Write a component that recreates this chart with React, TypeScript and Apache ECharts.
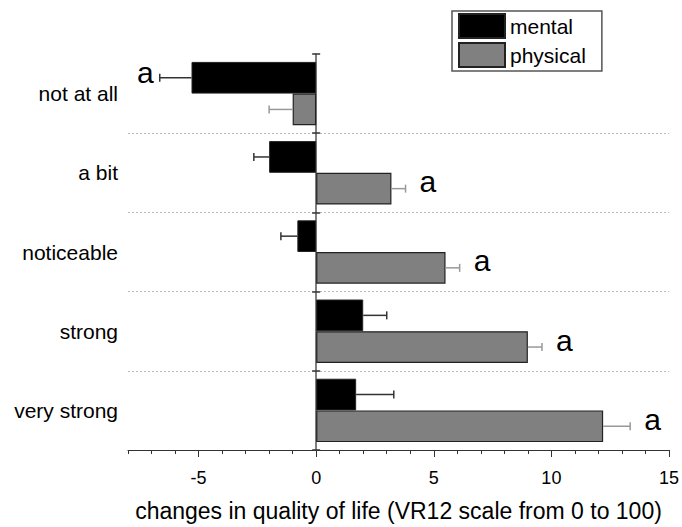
import React, { useEffect, useRef } from "react";
import * as echarts from "echarts";

const categories = ["not at all", "a bit", "noticeable", "strong", "very strong"];
const mentalValues = [-5.3, -2.0, -0.8, 2.0, 1.7];
const mentalErrors = [1.35, 0.65, 0.7, 1.0, 1.6];
const physicalValues = [-1.0, 3.2, 5.5, 9.0, 12.2];
const physicalErrors = [1.0, 0.6, 0.6, 0.6, 1.15];
const mentalSig = ["a", "", "", "", ""];
const physicalSig = ["", "a", "a", "a", "a"];
const xTickLabels = [-5, 0, 5, 10, 15];
const xMin = -8;
const xMax = 15;

const FONT = "'Liberation Sans', Arial, sans-serif";

function errData(values: number[], errs: number[], sig: string[]) {
  return values.map((v, i) => [v, i, v + (v < 0 ? -errs[i] : errs[i]), sig[i] ? 1 : 0]);
}

function makeRender(offsetSign: number, color: string, sig: string[]) {
  return (params: any, api: any) => {
    const v = api.value(0);
    const cat = api.value(1);
    const e = api.value(2);
    const band = api.size([0, 1])[1];
    const p0 = api.coord([v, cat]);
    const p1 = api.coord([e, cat]);
    const y = p0[1] + offsetSign * band * 0.2;
    const cap = 4;
    const children: any[] = [
      { type: "line", shape: { x1: p0[0], y1: y, x2: p1[0], y2: y }, style: { stroke: color, lineWidth: 1.5 } },
      { type: "line", shape: { x1: p1[0], y1: y - cap, x2: p1[0], y2: y + cap }, style: { stroke: color, lineWidth: 1.5 } },
    ];
    const s = sig[params.dataIndex];
    if (s) {
      const neg = e < 0;
      children.push({
        type: "text",
        x: neg ? p1[0] - 6 : p1[0] + 14,
        y: neg ? y - 5 : y - 7,
        style: {
          text: s,
          fill: "#000",
          font: `30px ${FONT}`,
          align: neg ? "right" : "left",
          verticalAlign: "middle",
        },
      });
    }
    return { type: "group", children };
  };
}

export default function App() {
  const ref = useRef<HTMLDivElement>(null);
  useEffect(() => {
    if (!ref.current) return;
    const chart = echarts.init(ref.current, undefined, { renderer: "svg" });
    const catAxisBase = {
      type: "category" as const,
      data: categories,
      inverse: true,
      position: "left" as const,
    };
    chart.setOption({
      animation: false,
      textStyle: { fontFamily: FONT, color: "#000" },
      grid: { left: 128, right: 11, top: 54, bottom: 73, containLabel: false },
      legend: {
        data: ["mental", "physical"],
        orient: "vertical",
        left: 452,
        top: 11,
        itemWidth: 46,
        itemHeight: 24,
        itemGap: 3,
        padding: [2, 16, 3, 6],
        borderColor: "#555",
        borderWidth: 1.5,
        icon: "rect",
        textStyle: { fontSize: 21, color: "#000", fontFamily: FONT },
      },
      xAxis: [
        {
          type: "value",
          min: xMin,
          max: xMax,
          interval: 1,
          axisLine: { show: true, lineStyle: { color: "#333", width: 1 } },
          axisTick: { show: true, length: 4, lineStyle: { color: "#333" } },
          axisLabel: {
            customValues: xTickLabels,
            fontSize: 18,
            color: "#000",
            margin: 19,
            fontFamily: FONT,
          },
          splitLine: { show: false },
          name: "changes in quality of life (VR12 scale from 0 to 100)",
          nameLocation: "middle",
          nameGap: 49,
          nameTextStyle: { fontSize: 23, color: "#000", fontFamily: FONT },
        },
        {
          type: "value",
          min: xMin,
          max: xMax,
          position: "bottom",
          axisLine: { show: false },
          axisTick: { show: true, length: 7, customValues: xTickLabels, lineStyle: { color: "#333" } },
          axisLabel: { show: false },
          splitLine: { show: false },
        },
      ],
      yAxis: [
        {
          ...catAxisBase,
          axisLine: { show: true, onZero: true, lineStyle: { color: "#555", width: 1.5 } },
          axisTick: { show: true, length: 4, lineStyle: { color: "#333", width: 1.5 } },
          axisLabel: { show: false },
          splitLine: {
            show: true,
            showMinLine: false,
            showMaxLine: false,
            lineStyle: { color: "#bbb", type: [2, 2], width: 1 },
          },
        },
        {
          ...catAxisBase,
          axisLine: { show: false, onZero: true },
          axisTick: { show: true, inside: true, length: 4, lineStyle: { color: "#333", width: 1.5 } },
          axisLabel: { show: false },
          splitLine: { show: false },
        },
        {
          ...catAxisBase,
          axisLine: { show: false, onZero: false },
          axisTick: { show: false },
          axisLabel: { show: true, margin: 10, fontSize: 21, color: "#000", fontFamily: FONT },
          splitLine: { show: false },
        },
      ],
      series: [
        {
          name: "mental",
          type: "bar",
          data: mentalValues,
          barGap: "0%",
          barCategoryGap: "20%",
          itemStyle: { color: "#000", borderColor: "#222", borderWidth: 1 },
        },
        {
          name: "physical",
          type: "bar",
          data: physicalValues,
          barGap: "0%",
          barCategoryGap: "20%",
          itemStyle: { color: "#808080", borderColor: "#222", borderWidth: 1.2 },
        },
        {
          name: "mentalErr",
          type: "custom",
          data: errData(mentalValues, mentalErrors, mentalSig),
          encode: { x: [0, 2], y: 1 },
          renderItem: makeRender(-1, "#333", mentalSig),
          z: 3,
        },
        {
          name: "physicalErr",
          type: "custom",
          data: errData(physicalValues, physicalErrors, physicalSig),
          encode: { x: [0, 2], y: 1 },
          renderItem: makeRender(1, "#999", physicalSig),
          z: 3,
        },
      ],
    });
    return () => chart.dispose();
  }, []);
  return (
    <div
      ref={ref}
      style={{ position: "fixed", left: 0, top: 0, width: 682, height: 527, background: "#fff" }}
    />
  );
}
